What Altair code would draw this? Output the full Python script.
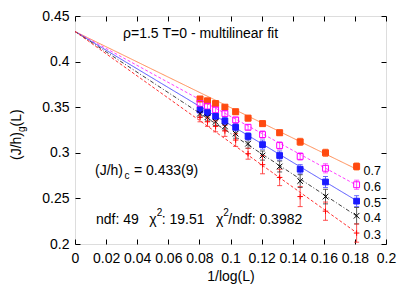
import altair as alt
import pandas as pd

# ---------------- data ----------------
x_vals = [0.0804, 0.0852, 0.0904, 0.0964, 0.1033, 0.1113, 0.1206, 0.1316, 0.1448, 0.1611, 0.1811]
series_names = ["0.7", "0.6", "0.5", "0.4", "0.3"]

y_07 = [0.359, 0.357, 0.354, 0.350, 0.345, 0.338, 0.332, 0.322, 0.312, 0.300, 0.285]
y_06 = [0.354, 0.351, 0.347, 0.343, 0.336, 0.328, 0.320, 0.308, 0.296, 0.283, 0.265]
y_05 = [0.347, 0.344, 0.340, 0.335, 0.328, 0.318, 0.309, 0.297, 0.282, 0.268, 0.247]
y_04 = [0.343, 0.339, 0.334, 0.329, 0.321, 0.310, 0.297, 0.285, 0.269, 0.252, 0.231]
y_03 = [0.339, 0.334, 0.329, 0.324, 0.314, 0.299, 0.287, 0.273, 0.252, 0.236, 0.212]

e_07 = [0.002, 0.002, 0.002, 0.002, 0.003, 0.003, 0.003, 0.003, 0.004, 0.004, 0.004]
e_06 = [0.003, 0.003, 0.003, 0.003, 0.003, 0.003, 0.004, 0.004, 0.004, 0.005, 0.005]
e_05 = [0.003, 0.003, 0.003, 0.004, 0.004, 0.004, 0.005, 0.005, 0.005, 0.006, 0.006]
e_04 = [0.004, 0.004, 0.004, 0.004, 0.005, 0.005, 0.005, 0.006, 0.007, 0.008, 0.009]
e_03 = [0.005, 0.005, 0.006, 0.006, 0.007, 0.006, 0.010, 0.009, 0.011, 0.010, 0.010]

fit_intercept = 0.433
fit_x_end = 0.1811
fit_end = [0.282, 0.2645, 0.2475, 0.2307, 0.2124]

x_ticks = [0, 0.02, 0.04, 0.06, 0.08, 0.1, 0.12, 0.14, 0.16, 0.18, 0.2]
y_ticks = [0.2, 0.25, 0.3, 0.35, 0.4, 0.45]

# ---------------- styles ----------------
FONT = "Liberation Sans"
point_colors = ["#ff4a10", "#ff00ff", "#1a1aff", "#000000", "#ff0000"]
line_colors = ["#ff8a50", "#ff40ff", "#5050ff", "#404040", "#ff3030"]
fills = ["#ff4a10", "transparent", "#1a1aff", "transparent", "transparent"]
shapes = ["square", "square", "square", "M-1,-1L1,1M-1,1L1,-1", "M-1,0L1,0M0,-1L0,1"]
sizes = [36, 30, 16, 25, 40]
dashes = [[1, 0], [3, 2], [1, 0], [4, 2, 1, 2], [3, 2]]

rows = []
for s, ys_, es in zip(series_names, [y_07, y_06, y_05, y_04, y_03], [e_07, e_06, e_05, e_04, e_03]):
    for x, y, e in zip(x_vals, ys_, es):
        rows.append(dict(series=s, x=x, y=y, lo=y - e, hi=y + e))
pts = pd.DataFrame(rows)

lines = pd.DataFrame(
    [dict(series=s, x=xx, y=yy)
     for s, e in zip(series_names, fit_end)
     for xx, yy in [(0.0, fit_intercept), (fit_x_end, e)]]
)
labels = pd.DataFrame(dict(series=series_names, x=[fit_x_end] * len(series_names), y=fit_end))
caps = pd.concat([
    pts[["series", "x", "lo"]].rename(columns={"lo": "y"}),
    pts[["series", "x", "hi"]].rename(columns={"hi": "y"}),
], ignore_index=True)

xs = alt.Scale(domain=[0, 0.2], nice=False, zero=False)
ys = alt.Scale(domain=[0.2, 0.45], nice=False, zero=False)
dom = series_names
color_line = alt.Color("series:N", scale=alt.Scale(domain=dom, range=line_colors), legend=None)

ax_x_lab = alt.Axis(orient="bottom", values=x_ticks, format="~g", ticks=False, tickSize=0, domain=False,
                    grid=False, labelFont=FONT, labelFontSize=14, labelColor="black", labelPadding=7,
                    labelFlush=False, labelOverlap=False, title=None)
ax_y_lab = alt.Axis(orient="left", values=y_ticks, format="~g", ticks=False, tickSize=0, domain=False,
                    grid=False, labelFont=FONT, labelFontSize=14, labelColor="black", labelPadding=6,
                    labelFlush=False, labelOverlap=False, title=None)


def tick_axis(orient, vals):
    return alt.Axis(orient=orient, values=vals, labels=False, domain=False, grid=False, ticks=True,
                    tickSize=5, offset=-5, tickColor="black", tickWidth=1, title=None)


line_ch = alt.Chart(lines).mark_line(strokeWidth=1).encode(
    x=alt.X("x:Q", scale=xs, axis=ax_x_lab),
    y=alt.Y("y:Q", scale=ys, axis=ax_y_lab),
    color=color_line,
    strokeDash=alt.StrokeDash("series:N", scale=alt.Scale(domain=dom, range=dashes), legend=None),
    detail="series:N",
)

err_ch = alt.Chart(pts).mark_rule(strokeWidth=1, opacity=0.85).encode(
    x=alt.X("x:Q", scale=xs, axis=tick_axis("bottom", x_ticks)),
    y=alt.Y("lo:Q", scale=ys, axis=tick_axis("left", y_ticks)),
    y2="hi:Q",
    color=color_line,
)

caps_ch = alt.Chart(caps).mark_tick(orient="horizontal", size=5, thickness=1, opacity=0.85).encode(
    x=alt.X("x:Q", scale=xs, axis=tick_axis("top", x_ticks)),
    y=alt.Y("y:Q", scale=ys, axis=tick_axis("right", y_ticks)),
    color=color_line,
)

pt_ch = alt.Chart(pts).mark_point(filled=False, strokeWidth=1, opacity=1, fillOpacity=1).encode(
    x=alt.X("x:Q", scale=xs, axis=None),
    y=alt.Y("y:Q", scale=ys, axis=None),
    shape=alt.Shape("series:N", scale=alt.Scale(domain=dom, range=shapes), legend=None),
    fill=alt.Fill("series:N", scale=alt.Scale(domain=dom, range=fills), legend=None),
    stroke=alt.Stroke("series:N", scale=alt.Scale(domain=dom, range=point_colors), legend=None),
    size=alt.Size("series:O", scale=alt.Scale(domain=dom, range=sizes), legend=None),
)

lab_ch = alt.Chart(labels).mark_text(align="left", baseline="middle", dx=7, dy=2, fontSize=12.5,
                                     font=FONT, color="black").encode(
    x=alt.X("x:Q", scale=xs, axis=None),
    y=alt.Y("y:Q", scale=ys, axis=None),
    text="series:N",
)


def note(text, x, y, size=14, angle=0, align="left"):
    return alt.Chart(pd.DataFrame({"t": [text]})).mark_text(
        align=align, baseline="alphabetic", font=FONT, fontSize=size, color="black", angle=angle
    ).encode(x=alt.value(x), y=alt.value(y), text="t:N")


notes = [
    note("ρ=1.5 T=0 - multilinear fit", 48, 21.5),
    note("(J/h)", 20, 158.5),
    note("c", 49.5, 162.5, size=10),
    note("= 0.433(9)", 59, 158.5),
    note("ndf: 49", 21, 207.5),
    note("χ", 74.3, 207.5),
    note("2", 81.7, 199.5, size=10),
    note(": 19.51", 86.7, 207.5),
    note("χ", 141, 207.5),
    note("2", 148.3, 199.5, size=10),
    note("/ndf: 0.3982", 153.3, 207.5),
    # x-axis title
    note("1/log(L)", 156, 265, align="center"),
    # rotated y-axis title
    note("(J/h)", -54, 144, angle=270),
    note("g", -50.5, 116, size=10, angle=270),
    note("(L)", -54, 110.4, angle=270),
]

chart = alt.layer(line_ch, err_ch, caps_ch, pt_ch, lab_ch, *notes).resolve_axis(
    x="independent", y="independent"
).properties(
    width=311,
    height=228,
    padding={"left": 67, "top": 8, "right": 17, "bottom": 44},
    autosize=alt.AutoSizeParams(type="none"),
).configure_view(stroke="black", strokeWidth=1).configure(font=FONT)

chart.save("out.html", embed_options={"renderer": "svg", "actions": False})
